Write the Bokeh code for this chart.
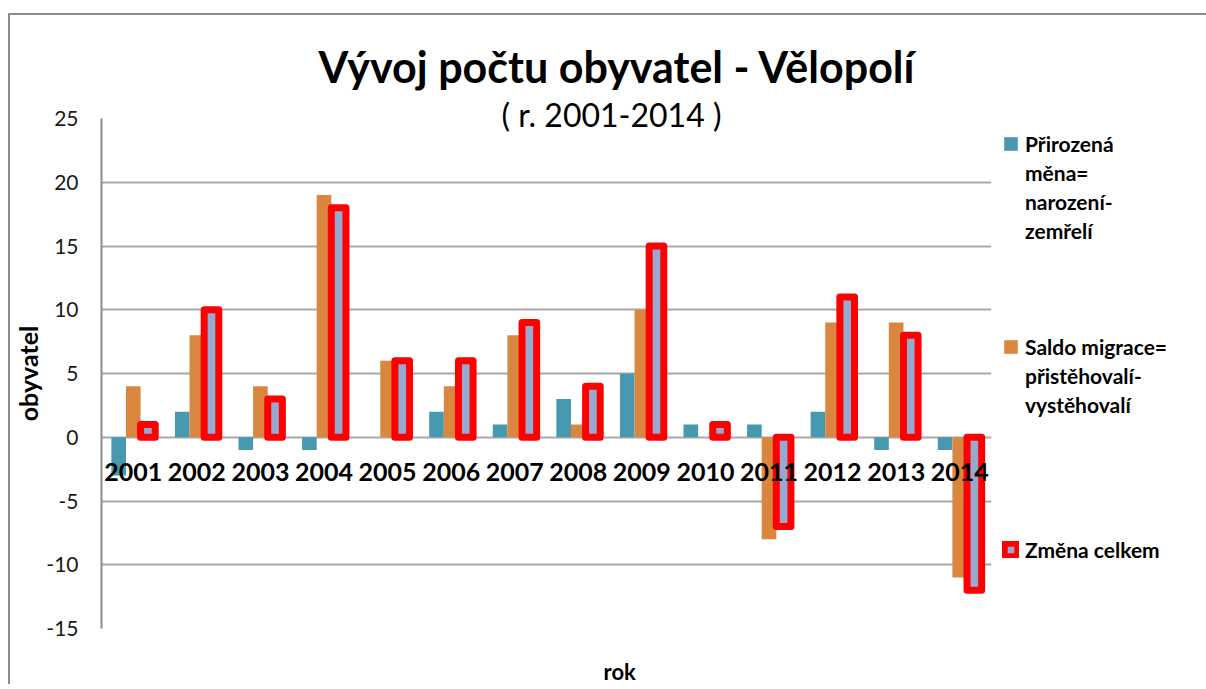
from bokeh.plotting import figure
from bokeh.models import (FactorRange, Range1d, Legend, LegendItem, Title,
                          ColumnDataSource, FixedTicker)
from bokeh.transform import dodge
from bokeh.embed import file_html
from bokeh.resources import INLINE

# ---- data ----
years = ["2001", "2002", "2003", "2004", "2005", "2006", "2007",
         "2008", "2009", "2010", "2011", "2012", "2013", "2014"]
prirozena_mena = [-3, 2, -1, -1, 0, 2, 1, 3, 5, 1, 1, 2, -1, -1]
saldo_migrace = [4, 8, 4, 19, 6, 4, 8, 1, 10, 0, -8, 9, 9, -11]
zmena_celkem = [1, 10, 3, 18, 6, 6, 9, 4, 15, 1, -7, 11, 8, -12]
y_ticks = [-15, -10, -5, 0, 5, 10, 15, 20, 25]
y_tick_labels = ["-15", "-10", "-5", "0", "5", "10", "15", "20", "25"]

legend_lines = [
    ["Přirozená", "měna=", "narození-", "zemřelí"],
    ["Saldo migrace=", "přistěhovalí-", "vystěhovalí"],
    ["Změna celkem"],
]
title_text = "Vývoj počtu obyvatel - Vělopolí"
subtitle_text = "( r.  2001-2014 )"
x_title = "rok"
y_title = "obyvatel"

FONT = "Lato"

src = ColumnDataSource(dict(year=years, p=prirozena_mena, s=saldo_migrace, z=zmena_celkem))

p = figure(x_range=FactorRange(*years), y_range=Range1d(y_ticks[0], y_ticks[-1]),
           frame_width=890, frame_height=510,
           min_border_left=88, min_border_right=214, min_border_top=103, min_border_bottom=20,
           output_backend="svg", toolbar_location=None)
p.styles = {"border-left": "2px solid #8c8c8c", "border-top": "2px solid #8c8c8c",
            "margin-left": "8px", "margin-top": "13px"}
p.outline_line_color = None
p.background_fill_color = "white"
p.border_fill_color = "white"

bw = 0.23
r1 = p.vbar(x=dodge("year", -bw, range=p.x_range), top="p", width=bw, source=src,
            fill_color="#4799AF", line_color=None)
r2 = p.vbar(x=dodge("year", 0, range=p.x_range), top="s", width=bw, source=src,
            fill_color="#DB863F", line_color=None)
r3 = p.vbar(x=dodge("year", bw, range=p.x_range), top="z", width=bw, source=src,
            fill_color="#95A9D1", line_color="#FF0000", line_width=7, line_join="round")
# invisible renderer used only for the wrapped legend text lines
r_blank = p.vbar(x=[], top=[], width=bw, fill_alpha=0, line_alpha=0)

# grid
p.xgrid.grid_line_color = None
p.ygrid.grid_line_color = "#a8a8a8"
p.ygrid.grid_line_width = 2

# y axis
p.yaxis.ticker = FixedTicker(ticks=y_ticks)
p.yaxis.major_label_overrides = dict(zip(y_ticks, y_tick_labels))
p.yaxis.axis_line_color = "#8c8c8c"
p.yaxis.axis_line_width = 2
p.yaxis.major_tick_line_color = None
p.yaxis.minor_tick_line_color = None
p.yaxis.major_label_standoff = 17
p.yaxis.major_label_text_font = FONT
p.yaxis.major_label_text_font_size = "21px"
p.yaxis.major_label_text_color = "#1a1a1a"
p.yaxis.axis_label = y_title
p.yaxis.axis_label_text_font = FONT
p.yaxis.axis_label_text_font_style = "bold"
p.yaxis.axis_label_text_font_size = "25px"
p.yaxis.axis_label_standoff = 0
p.yaxis.axis_label_text_color = "black"

# x axis (category labels) at zero
p.xaxis.fixed_location = 0
p.xaxis.axis_line_color = None
p.xaxis.major_tick_line_color = None
p.xaxis.minor_tick_line_color = None
p.xaxis.major_label_standoff = 20
p.xaxis.major_label_text_font = FONT
p.xaxis.major_label_text_font_style = "bold"
p.xaxis.major_label_text_font_size = "25px"
p.xaxis.major_label_text_color = "black"

# titles
p.title.text = title_text
p.title.align = "left"
p.title.offset = 217
p.title.standoff = 34
p.title.text_font = FONT
p.title.text_font_style = "bold"
p.title.text_font_size = "43px"
p.title.text_color = "black"
p.add_layout(Title(text=subtitle_text, align="left", offset=400, standoff=-31,
                   text_font=FONT, text_font_style="normal", text_font_size="32px",
                   text_color="black"), "above")
# x-axis title below the plot (a leading empty line pushes it lower)
p.add_layout(Title(text="\n" + x_title, align="left", offset=502, standoff=0,
                   text_font=FONT, text_font_style="bold", text_font_size="22px",
                   text_color="black"), "below")

# legend: one item per text line, glyph only on the first line of each entry
gap_lines = [3, 4]
items = []
for k, (lines, rend) in enumerate(zip(legend_lines, [r1, r2, r3])):
    items.append(LegendItem(label=lines[0], renderers=[rend]))
    for ln in lines[1:]:
        items.append(LegendItem(label=ln, renderers=[r_blank]))
    if k < len(gap_lines):
        for _ in range(gap_lines[k]):
            items.append(LegendItem(label=" ", renderers=[r_blank]))

legend = Legend(items=items, location="top_left", orientation="vertical")
legend.border_line_color = None
legend.background_fill_alpha = 0
legend.margin = 11
legend.padding = 20
legend.spacing = 0
legend.glyph_width = 17
legend.glyph_height = 17
legend.label_height = 29
legend.label_standoff = 6
legend.label_text_font = FONT
legend.label_text_font_style = "bold"
legend.label_text_font_size = "21px"
legend.label_text_color = "black"
p.add_layout(legend, "right")

open("out.html", "w").write(file_html(p, INLINE))
